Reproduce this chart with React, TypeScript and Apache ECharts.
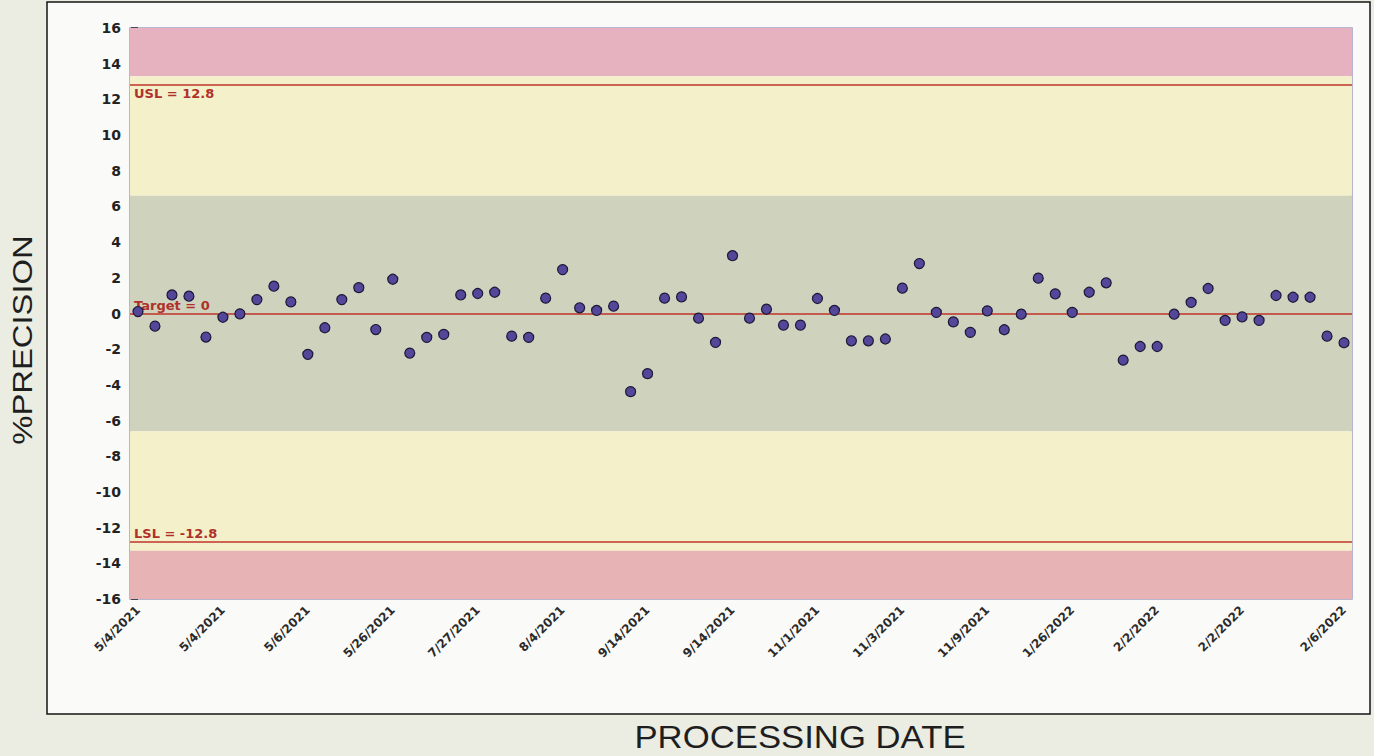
import React, { useEffect, useRef } from "react";
import * as echarts from "echarts";

// %PRECISION value per processing run (index order)
const precisionValues: number[] = [
  0.11, -0.71, 1.04, 0.97, -1.32, -0.21, -0.02, 0.78, 1.53, 0.65,
  -2.29, -0.8, 0.78, 1.45, -0.9, 1.92, -2.22, -1.34, -1.17, 1.04,
  1.12, 1.19, -1.27, -1.34, 0.86, 2.46, 0.32, 0.17, 0.41, -4.38,
  -3.37, 0.86, 0.93, -0.26, -1.62, 3.24, -0.26, 0.24, -0.65, -0.65,
  0.84, 0.17, -1.53, -1.53, -1.43, 1.42, 2.8, 0.06, -0.47, -1.06,
  0.15, -0.91, -0.04, 1.98, 1.1, 0.06, 1.19, 1.72, -2.61, -1.85,
  -1.85, -0.04, 0.62, 1.4, -0.39, -0.19, -0.39, 1.01, 0.91, 0.91,
  -1.27, -1.64,
];

// x tick positions (run index) and their date labels
const tickIndices: number[] = [0, 5, 10, 15, 20, 25, 30, 35, 40, 45, 50, 55, 60, 65, 71];
const tickLabels: string[] = [
  "5/4/2021", "5/4/2021", "5/6/2021", "5/26/2021", "7/27/2021", "8/4/2021",
  "9/14/2021", "9/14/2021", "11/1/2021", "11/3/2021", "11/9/2021",
  "1/26/2022", "2/2/2022", "2/2/2022", "2/6/2022",
];

// specification limits
const specLines = [
  { name: "USL", value: 12.8, pos: "insideStartBottom" },
  { name: "Target", value: 0, pos: "insideStartTop" },
  { name: "LSL", value: -12.8, pos: "insideStartTop" },
];

// background zones [from, to, colour]
const zones: [number, number, string][] = [
  [13.3, 16, "#e7b2bf"],
  [6.6, 13.3, "#f4f1ca"],
  [-6.6, 6.6, "#cfd2bc"],
  [-13.3, -6.6, "#f4f1ca"],
  [-16, -13.3, "#e8b3b5"],
];

export default function App() {
  const ref = useRef<HTMLDivElement>(null);
  useEffect(() => {
    if (!ref.current) return;
    const chart = echarts.init(ref.current, undefined, { renderer: "svg" });
    const n = precisionValues.length;
    chart.setOption({
      animation: false,
      backgroundColor: "#ebece2",
      graphic: [
        {
          type: "rect",
          z: -10,
          shape: { x: 47, y: 2, width: 1323, height: 712 },
          style: { fill: "#fafaf8", stroke: "#151515", lineWidth: 1.5 },
          silent: true,
        },
        {
          type: "text",
          x: 22,
          y: 340,
          rotation: Math.PI / 2,
          scaleX: 1.17,
          style: {
            text: "%PRECISION",
            font: "28px 'Liberation Sans', Arial, sans-serif",
            fill: "#1e1e1e",
            align: "center",
            verticalAlign: "middle",
          },
          silent: true,
        },
        {
          type: "text",
          x: 800,
          y: 737,
          scaleX: 1.12,
          style: {
            text: "PROCESSING DATE",
            font: "31px 'Liberation Sans', Arial, sans-serif",
            fill: "#1e1e1e",
            align: "center",
            verticalAlign: "middle",
          },
          silent: true,
        },
      ],
      grid: {
        left: 130,
        top: 28,
        right: 22,
        bottom: 157,
        show: true,
        borderColor: "#a39fc6",
        borderWidth: 1.5,
        backgroundColor: "transparent",
      },
      xAxis: {
        type: "value",
        min: -0.47,
        max: n - 1 + 0.47,
        axisLine: { show: false },
        splitLine: { show: false },
        axisTick: {
          show: true,
          customValues: tickIndices,
          length: 6,
          lineStyle: { color: "#222", width: 1.5 },
        },
        axisLabel: {
          customValues: tickIndices,
          rotate: 45,
          margin: 9,
          fontFamily: "'DejaVu Sans', Verdana, sans-serif",
          fontSize: 12,
          fontWeight: "bold",
          color: "#2a2a2a",
          formatter: (v: number) => {
            const k = tickIndices.indexOf(Math.round(v));
            return k >= 0 ? tickLabels[k] : "";
          },
        },
      },
      yAxis: {
        type: "value",
        min: -16,
        max: 16,
        interval: 2,
        axisLine: { show: false },
        splitLine: { show: false },
        axisTick: { show: true, length: 7, lineStyle: { color: "#222", width: 1.5 } },
        minorTick: { show: true, splitNumber: 2, length: 4, lineStyle: { color: "#222", width: 1.5 } },
        axisLabel: {
          margin: 9,
          fontFamily: "'DejaVu Sans', Verdana, sans-serif",
          fontSize: 14,
          fontWeight: "bold",
          color: "#222",
        },
      },
      series: [
        {
          type: "scatter",
          data: precisionValues.map((v, i) => [i, v]),
          symbol: "circle",
          symbolSize: 10,
          z: 5,
          itemStyle: { color: "#54479a", borderColor: "#1c1838", borderWidth: 1.2, opacity: 1 },
          markArea: {
            silent: true,
            data: zones.map(([a, b, c]) => [
              { yAxis: a, itemStyle: { color: c, opacity: 1 } },
              { yAxis: b },
            ]),
          },
          markLine: {
            silent: true,
            symbol: ["none", "none"],
            lineStyle: { color: "#c0332b", width: 1.5, type: "solid" },
            data: specLines.map((s) => ({
              yAxis: s.value,
              label: {
                show: true,
                position: s.pos,
                distance: [4, 2],
                formatter: `${s.name} = ${s.value}`,
                fontFamily: "'DejaVu Sans', Verdana, sans-serif",
                fontSize: 13,
                fontWeight: "bold",
                color: "#b0302a",
              },
            })),
          },
        },
      ],
    });
    return () => chart.dispose();
  }, []);
  return (
    <div
      ref={ref}
      style={{ position: "fixed", left: 0, top: 0, width: 1374, height: 756 }}
    />
  );
}
